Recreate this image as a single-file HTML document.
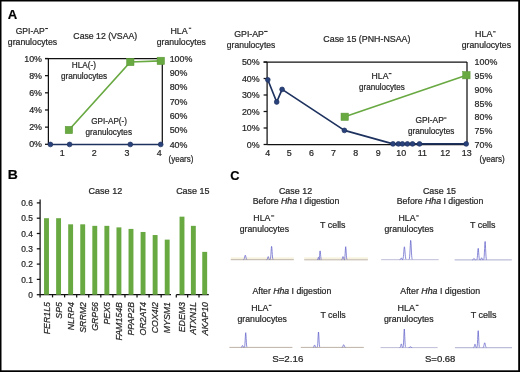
<!DOCTYPE html>
<html><head><meta charset="utf-8"><style>
html,body{margin:0;padding:0;background:#fff;}
body{width:520px;height:372px;overflow:hidden;}
svg{display:block;font-family:"Liberation Sans",sans-serif;will-change:transform;}
text{stroke:#262626;stroke-width:0.22px;}
</style></head><body>
<svg width="520" height="372" viewBox="0 0 520 372">
<rect width="520" height="372" fill="#fff"/>
<g fill="#262626" stroke-width="0">
<rect x="0.00" y="0.00" width="1.50" height="372.00" fill="#000"/>
<rect x="0.00" y="0.00" width="520.00" height="1.50" fill="#000"/>
<rect x="518.20" y="0.00" width="1.80" height="372.00" fill="#000"/>
<rect x="0.00" y="370.30" width="520.00" height="1.70" fill="#000"/>
<text x="7.77" y="18.9" font-size="13" textLength="9.47" lengthAdjust="spacingAndGlyphs" font-weight="bold" fill="#000">A</text>
<text x="7.67" y="179.1" font-size="13.2" textLength="10.07" lengthAdjust="spacingAndGlyphs" font-weight="bold" fill="#000">B</text>
<text x="230.27" y="179.5" font-size="13.2" textLength="9.28" lengthAdjust="spacingAndGlyphs" font-weight="bold" fill="#000">C</text>
<text x="15.67" y="33.9" font-size="8.7" textLength="28.98" lengthAdjust="spacingAndGlyphs">GPI-AP</text>
<rect x="45.2" y="28.01" width="2.70" height="1.05" fill="#262626"/>
<text x="7.83" y="44.8" font-size="8.7" textLength="49.38" lengthAdjust="spacingAndGlyphs">granulocytes</text>
<text x="73.36" y="39.1" font-size="8.7" textLength="63.78" lengthAdjust="spacingAndGlyphs">Case 12 (VSAA)</text>
<text x="170.47" y="33.6" font-size="8.7" textLength="17.24" lengthAdjust="spacingAndGlyphs">HLA</text>
<rect x="188.8" y="27.71" width="2.40" height="1.05" fill="#262626"/>
<text x="156.74" y="44.8" font-size="8.7" textLength="49.18" lengthAdjust="spacingAndGlyphs">granulocytes</text>
<line x1="45" y1="58.5" x2="162.3" y2="58.5" stroke="#111" stroke-width="1.25"/>
<line x1="48.4" y1="58.5" x2="48.4" y2="144.3" stroke="#111" stroke-width="1.25"/>
<line x1="162.3" y1="58.5" x2="162.3" y2="144.3" stroke="#111" stroke-width="1.25"/>
<line x1="45" y1="58.5" x2="48.4" y2="58.5" stroke="#111" stroke-width="1.25"/>
<text x="42" y="61.6" font-size="8.9" text-anchor="end">10%</text>
<line x1="45" y1="75.66" x2="48.4" y2="75.66" stroke="#111" stroke-width="1.25"/>
<text x="42" y="78.75999999999999" font-size="8.9" text-anchor="end">8%</text>
<line x1="45" y1="92.82000000000001" x2="48.4" y2="92.82000000000001" stroke="#111" stroke-width="1.25"/>
<text x="42" y="95.92" font-size="8.9" text-anchor="end">6%</text>
<line x1="45" y1="109.98" x2="48.4" y2="109.98" stroke="#111" stroke-width="1.25"/>
<text x="42" y="113.08" font-size="8.9" text-anchor="end">4%</text>
<line x1="45" y1="127.14000000000001" x2="48.4" y2="127.14000000000001" stroke="#111" stroke-width="1.25"/>
<text x="42" y="130.24" font-size="8.9" text-anchor="end">2%</text>
<line x1="45" y1="144.3" x2="48.4" y2="144.3" stroke="#111" stroke-width="1.25"/>
<text x="42" y="147.4" font-size="8.9" text-anchor="end">0%</text>
<text x="169.7" y="61.7" font-size="8.9" text-anchor="start">100%</text>
<text x="169.7" y="76.0" font-size="8.9" text-anchor="start">90%</text>
<text x="169.7" y="90.3" font-size="8.9" text-anchor="start">80%</text>
<text x="169.7" y="104.6" font-size="8.9" text-anchor="start">70%</text>
<text x="169.7" y="118.9" font-size="8.9" text-anchor="start">60%</text>
<text x="169.7" y="133.2" font-size="8.9" text-anchor="start">50%</text>
<text x="169.7" y="147.5" font-size="8.9" text-anchor="start">40%</text>
<text x="168.61" y="162.2" font-size="8.7" textLength="24.79" lengthAdjust="spacingAndGlyphs">(years)</text>
<text x="62.2" y="155.5" font-size="8.9" text-anchor="middle">1</text>
<text x="94.2" y="155.5" font-size="8.9" text-anchor="middle">2</text>
<text x="126.9" y="155.5" font-size="8.9" text-anchor="middle">3</text>
<text x="159.3" y="155.5" font-size="8.9" text-anchor="middle">4</text>
<polyline points="68.9,130 130.3,62 160.8,60.9" fill="none" stroke="#69a942" stroke-width="1.7" stroke-linejoin="round"/>
<rect x="65.20" y="126.30" width="7.4" height="7.4" fill="#69a942" stroke="#5b9637" stroke-width="0.5"/>
<rect x="126.60" y="58.30" width="7.4" height="7.4" fill="#69a942" stroke="#5b9637" stroke-width="0.5"/>
<rect x="157.10" y="57.20" width="7.4" height="7.4" fill="#69a942" stroke="#5b9637" stroke-width="0.5"/>
<line x1="48.4" y1="144.45" x2="162.3" y2="144.45" stroke="#1e325f" stroke-width="1.5"/>
<circle cx="50.4" cy="144.45" r="2.4" fill="#2a427c" stroke="#1e325f" stroke-width="0.7"/>
<circle cx="69.6" cy="144.45" r="2.4" fill="#2a427c" stroke="#1e325f" stroke-width="0.7"/>
<circle cx="130.3" cy="144.45" r="2.4" fill="#2a427c" stroke="#1e325f" stroke-width="0.7"/>
<circle cx="160.7" cy="144.45" r="2.4" fill="#2a427c" stroke="#1e325f" stroke-width="0.7"/>
<text x="71.82" y="68.3" font-size="8.4" textLength="24.29" lengthAdjust="spacingAndGlyphs">HLA(-)</text>
<text x="60.96" y="79.2" font-size="8.4" textLength="46.24" lengthAdjust="spacingAndGlyphs">granulocytes</text>
<text x="91.29" y="124.1" font-size="8.4" textLength="35.71" lengthAdjust="spacingAndGlyphs">GPI-AP(-)</text>
<text x="85.56" y="134.6" font-size="8.4" textLength="46.44" lengthAdjust="spacingAndGlyphs">granulocytes</text>
<text x="234.26" y="36.8" font-size="8.7" textLength="29.70" lengthAdjust="spacingAndGlyphs">GPI-AP</text>
<rect x="264.1" y="30.91" width="3.50" height="1.05" fill="#262626"/>
<text x="226.84" y="47.6" font-size="8.7" textLength="48.47" lengthAdjust="spacingAndGlyphs">granulocytes</text>
<text x="323.35" y="42.4" font-size="8.7" textLength="87.10" lengthAdjust="spacingAndGlyphs">Case 15 (PNH-NSAA)</text>
<text x="475.07" y="37.2" font-size="8.7" textLength="17.35" lengthAdjust="spacingAndGlyphs">HLA</text>
<rect x="493" y="31.31" width="2.70" height="1.05" fill="#262626"/>
<text x="461.74" y="48.2" font-size="8.7" textLength="49.28" lengthAdjust="spacingAndGlyphs">granulocytes</text>
<line x1="263.6" y1="62" x2="467" y2="62" stroke="#111" stroke-width="1.25"/>
<line x1="267.1" y1="62" x2="267.1" y2="144.5" stroke="#111" stroke-width="1.25"/>
<line x1="467" y1="62" x2="467" y2="144.5" stroke="#111" stroke-width="1.25"/>
<line x1="267.1" y1="144.5" x2="467" y2="144.5" stroke="#111" stroke-width="1.25"/>
<line x1="263.6" y1="62.0" x2="267.1" y2="62.0" stroke="#111" stroke-width="1.25"/>
<text x="259.7" y="65.1" font-size="8.9" text-anchor="end">50%</text>
<line x1="263.6" y1="78.5" x2="267.1" y2="78.5" stroke="#111" stroke-width="1.25"/>
<text x="259.7" y="81.6" font-size="8.9" text-anchor="end">40%</text>
<line x1="263.6" y1="95.0" x2="267.1" y2="95.0" stroke="#111" stroke-width="1.25"/>
<text x="259.7" y="98.1" font-size="8.9" text-anchor="end">30%</text>
<line x1="263.6" y1="111.5" x2="267.1" y2="111.5" stroke="#111" stroke-width="1.25"/>
<text x="259.7" y="114.6" font-size="8.9" text-anchor="end">20%</text>
<line x1="263.6" y1="128.0" x2="267.1" y2="128.0" stroke="#111" stroke-width="1.25"/>
<text x="259.7" y="131.1" font-size="8.9" text-anchor="end">10%</text>
<line x1="263.6" y1="144.5" x2="267.1" y2="144.5" stroke="#111" stroke-width="1.25"/>
<text x="259.7" y="147.6" font-size="8.9" text-anchor="end">0%</text>
<text x="474.6" y="65.3" font-size="8.9" text-anchor="start">100%</text>
<text x="474.6" y="79.05" font-size="8.9" text-anchor="start">95%</text>
<text x="474.6" y="92.8" font-size="8.9" text-anchor="start">90%</text>
<text x="474.6" y="106.55" font-size="8.9" text-anchor="start">85%</text>
<text x="474.6" y="120.3" font-size="8.9" text-anchor="start">80%</text>
<text x="474.6" y="134.05" font-size="8.9" text-anchor="start">75%</text>
<text x="474.6" y="147.8" font-size="8.9" text-anchor="start">70%</text>
<text x="479.50" y="161.9" font-size="8.7" textLength="25.20" lengthAdjust="spacingAndGlyphs">(years)</text>
<text x="267.7" y="156" font-size="8.9" text-anchor="middle">4</text>
<text x="289.2" y="156" font-size="8.9" text-anchor="middle">5</text>
<text x="311.5" y="156" font-size="8.9" text-anchor="middle">6</text>
<text x="333.5" y="156" font-size="8.9" text-anchor="middle">7</text>
<text x="355.6" y="156" font-size="8.9" text-anchor="middle">8</text>
<text x="378.3" y="156" font-size="8.9" text-anchor="middle">9</text>
<text x="401.2" y="156" font-size="8.9" text-anchor="middle">10</text>
<text x="422.4" y="156" font-size="8.9" text-anchor="middle">11</text>
<text x="445.2" y="156" font-size="8.9" text-anchor="middle">12</text>
<text x="466.7" y="156" font-size="8.9" text-anchor="middle">13</text>
<polyline points="267.8,79.8 276.7,102 282.1,89.4 344.4,130.4 393,143.9 398.4,143.9 402.4,143.9 407.4,143.9 412.5,143.9 419.5,143.9 466.2,143.9" fill="none" stroke="#1e325f" stroke-width="1.7" stroke-linejoin="round"/>
<circle cx="267.8" cy="79.8" r="2.4" fill="#2a427c" stroke="#1e325f" stroke-width="0.7"/>
<circle cx="276.7" cy="102" r="2.4" fill="#2a427c" stroke="#1e325f" stroke-width="0.7"/>
<circle cx="282.1" cy="89.4" r="2.4" fill="#2a427c" stroke="#1e325f" stroke-width="0.7"/>
<circle cx="344.4" cy="130.4" r="2.4" fill="#2a427c" stroke="#1e325f" stroke-width="0.7"/>
<circle cx="393" cy="143.9" r="2.4" fill="#2a427c" stroke="#1e325f" stroke-width="0.7"/>
<circle cx="398.4" cy="143.9" r="2.4" fill="#2a427c" stroke="#1e325f" stroke-width="0.7"/>
<circle cx="402.4" cy="143.9" r="2.4" fill="#2a427c" stroke="#1e325f" stroke-width="0.7"/>
<circle cx="407.4" cy="143.9" r="2.4" fill="#2a427c" stroke="#1e325f" stroke-width="0.7"/>
<circle cx="412.5" cy="143.9" r="2.4" fill="#2a427c" stroke="#1e325f" stroke-width="0.7"/>
<circle cx="419.5" cy="143.9" r="2.4" fill="#2a427c" stroke="#1e325f" stroke-width="0.7"/>
<circle cx="466.2" cy="143.9" r="2.4" fill="#2a427c" stroke="#1e325f" stroke-width="0.7"/>
<polyline points="344.7,116.8 466.4,75.2" fill="none" stroke="#69a942" stroke-width="1.7" stroke-linejoin="round"/>
<rect x="341.00" y="113.10" width="7.4" height="7.4" fill="#69a942" stroke="#5b9637" stroke-width="0.5"/>
<rect x="462.70" y="71.50" width="7.4" height="7.4" fill="#69a942" stroke="#5b9637" stroke-width="0.5"/>
<text x="371.59" y="79" font-size="8.7" textLength="16.83" lengthAdjust="spacingAndGlyphs">HLA</text>
<rect x="388.7" y="73.11" width="2.80" height="1.05" fill="#262626"/>
<text x="359.06" y="90" font-size="8.7" textLength="45.83" lengthAdjust="spacingAndGlyphs">granulocytes</text>
<text x="415.38" y="123.4" font-size="8.7" textLength="28.36" lengthAdjust="spacingAndGlyphs">GPI-AP</text>
<rect x="443.6" y="117.51" width="2.90" height="1.05" fill="#262626"/>
<text x="407.96" y="134.3" font-size="8.7" textLength="46.44" lengthAdjust="spacingAndGlyphs">granulocytes</text>
<text x="88.54" y="193.9" font-size="8.7" textLength="33.71" lengthAdjust="spacingAndGlyphs">Case 12</text>
<text x="176.15" y="193.9" font-size="8.7" textLength="33.33" lengthAdjust="spacingAndGlyphs">Case 15</text>
<line x1="40.1" y1="199.5" x2="40.1" y2="297.6" stroke="#111" stroke-width="1.25"/>
<line x1="40.1" y1="294.7" x2="171" y2="294.7" stroke="#111" stroke-width="1.25"/>
<line x1="176.3" y1="294.7" x2="208.8" y2="294.7" stroke="#111" stroke-width="1.25"/>
<line x1="36.8" y1="294.7" x2="40.1" y2="294.7" stroke="#111" stroke-width="1.25"/>
<text x="32.8" y="297.8" font-size="8.4" text-anchor="end">0</text>
<line x1="36.8" y1="279.4" x2="40.1" y2="279.4" stroke="#111" stroke-width="1.25"/>
<text x="32.8" y="282.5" font-size="8.4" text-anchor="end">0.1</text>
<line x1="36.8" y1="264.09999999999997" x2="40.1" y2="264.09999999999997" stroke="#111" stroke-width="1.25"/>
<text x="32.8" y="267.2" font-size="8.4" text-anchor="end">0.2</text>
<line x1="36.8" y1="248.79999999999998" x2="40.1" y2="248.79999999999998" stroke="#111" stroke-width="1.25"/>
<text x="32.8" y="251.89999999999998" font-size="8.4" text-anchor="end">0.3</text>
<line x1="36.8" y1="233.5" x2="40.1" y2="233.5" stroke="#111" stroke-width="1.25"/>
<text x="32.8" y="236.6" font-size="8.4" text-anchor="end">0.4</text>
<line x1="36.8" y1="218.2" x2="40.1" y2="218.2" stroke="#111" stroke-width="1.25"/>
<text x="32.8" y="221.29999999999998" font-size="8.4" text-anchor="end">0.5</text>
<line x1="36.8" y1="202.89999999999998" x2="40.1" y2="202.89999999999998" stroke="#111" stroke-width="1.25"/>
<text x="32.8" y="205.99999999999997" font-size="8.4" text-anchor="end">0.6</text>
<rect x="44.05" y="218.20" width="4.90" height="76.50" fill="#69a942"/>
<text transform="translate(49.60,302) rotate(-90)" font-size="8.8" font-style="italic" text-anchor="end">FER1L5</text>
<rect x="56.12" y="218.20" width="4.90" height="76.50" fill="#69a942"/>
<line x1="52.54" y1="294.7" x2="52.54" y2="297.4" stroke="#111" stroke-width="1.25"/>
<text transform="translate(61.67,302) rotate(-90)" font-size="8.8" font-style="italic" text-anchor="end">SP5</text>
<rect x="68.19" y="224.32" width="4.90" height="70.38" fill="#69a942"/>
<line x1="64.61" y1="294.7" x2="64.61" y2="297.4" stroke="#111" stroke-width="1.25"/>
<text transform="translate(73.74,302) rotate(-90)" font-size="8.8" font-style="italic" text-anchor="end">NLRP4</text>
<rect x="80.26" y="224.32" width="4.90" height="70.38" fill="#69a942"/>
<line x1="76.68" y1="294.7" x2="76.68" y2="297.4" stroke="#111" stroke-width="1.25"/>
<text transform="translate(85.81,302) rotate(-90)" font-size="8.8" font-style="italic" text-anchor="end">SRRM2</text>
<rect x="92.33" y="225.85" width="4.90" height="68.85" fill="#69a942"/>
<line x1="88.75" y1="294.7" x2="88.75" y2="297.4" stroke="#111" stroke-width="1.25"/>
<text transform="translate(97.88,302) rotate(-90)" font-size="8.8" font-style="italic" text-anchor="end">GRP56</text>
<rect x="104.40" y="225.85" width="4.90" height="68.85" fill="#69a942"/>
<line x1="100.82" y1="294.7" x2="100.82" y2="297.4" stroke="#111" stroke-width="1.25"/>
<text transform="translate(109.95,302) rotate(-90)" font-size="8.8" font-style="italic" text-anchor="end">PEX5</text>
<rect x="116.47" y="227.38" width="4.90" height="67.32" fill="#69a942"/>
<line x1="112.89" y1="294.7" x2="112.89" y2="297.4" stroke="#111" stroke-width="1.25"/>
<text transform="translate(122.02,302) rotate(-90)" font-size="8.8" font-style="italic" text-anchor="end">FAM154B</text>
<rect x="128.54" y="228.91" width="4.90" height="65.79" fill="#69a942"/>
<line x1="124.96000000000001" y1="294.7" x2="124.96000000000001" y2="297.4" stroke="#111" stroke-width="1.25"/>
<text transform="translate(134.09,302) rotate(-90)" font-size="8.8" font-style="italic" text-anchor="end">PPAP2B</text>
<rect x="140.61" y="231.97" width="4.90" height="62.73" fill="#69a942"/>
<line x1="137.03" y1="294.7" x2="137.03" y2="297.4" stroke="#111" stroke-width="1.25"/>
<text transform="translate(146.16,302) rotate(-90)" font-size="8.8" font-style="italic" text-anchor="end">OR2AT4</text>
<rect x="152.68" y="235.03" width="4.90" height="59.67" fill="#69a942"/>
<line x1="149.1" y1="294.7" x2="149.1" y2="297.4" stroke="#111" stroke-width="1.25"/>
<text transform="translate(158.23,302) rotate(-90)" font-size="8.8" font-style="italic" text-anchor="end">COX4I2</text>
<rect x="164.75" y="239.62" width="4.90" height="55.08" fill="#69a942"/>
<line x1="161.17" y1="294.7" x2="161.17" y2="297.4" stroke="#111" stroke-width="1.25"/>
<text transform="translate(170.30,302) rotate(-90)" font-size="8.8" font-style="italic" text-anchor="end">MYSM1</text>
<rect x="179.55" y="216.67" width="4.90" height="78.03" fill="#69a942"/>
<line x1="176.3" y1="294.7" x2="176.3" y2="297.4" stroke="#111" stroke-width="1.25"/>
<text transform="translate(185.10,302) rotate(-90)" font-size="8.8" font-style="italic" text-anchor="end">EDEM3</text>
<rect x="190.90" y="225.85" width="4.90" height="68.85" fill="#69a942"/>
<line x1="187.65" y1="294.7" x2="187.65" y2="297.4" stroke="#111" stroke-width="1.25"/>
<text transform="translate(196.45,302) rotate(-90)" font-size="8.8" font-style="italic" text-anchor="end">ATXN1L</text>
<rect x="202.25" y="251.86" width="4.90" height="42.84" fill="#69a942"/>
<line x1="199.0" y1="294.7" x2="199.0" y2="297.4" stroke="#111" stroke-width="1.25"/>
<text transform="translate(207.80,302) rotate(-90)" font-size="8.8" font-style="italic" text-anchor="end">AKAP10</text>
<text x="278.95" y="193.7" font-size="8.7" textLength="33.20" lengthAdjust="spacingAndGlyphs">Case 12</text>
<text x="252.78" y="203.7" font-size="8.7" textLength="86.59" lengthAdjust="spacingAndGlyphs">Before <tspan font-style="italic">Hha</tspan> I digestion</text>
<text x="422.95" y="193.7" font-size="8.7" textLength="33.13" lengthAdjust="spacingAndGlyphs">Case 15</text>
<text x="396.78" y="203.6" font-size="8.7" textLength="86.59" lengthAdjust="spacingAndGlyphs">Before <tspan font-style="italic">Hha</tspan> I digestion</text>
<text x="253.38" y="221.3" font-size="8.7" textLength="17.04" lengthAdjust="spacingAndGlyphs">HLA</text>
<rect x="271" y="215.41" width="3.20" height="1.05" fill="#262626"/>
<text x="239.74" y="232" font-size="8.7" textLength="49.28" lengthAdjust="spacingAndGlyphs">granulocytes</text>
<text x="320.10" y="228.3" font-size="8.7" textLength="25.42" lengthAdjust="spacingAndGlyphs">T cells</text>
<text x="398.48" y="221.3" font-size="8.7" textLength="17.04" lengthAdjust="spacingAndGlyphs">HLA</text>
<rect x="416.1" y="215.41" width="2.70" height="1.05" fill="#262626"/>
<text x="384.44" y="232" font-size="8.7" textLength="49.18" lengthAdjust="spacingAndGlyphs">granulocytes</text>
<text x="470.00" y="228.3" font-size="8.7" textLength="25.52" lengthAdjust="spacingAndGlyphs">T cells</text>
<text x="252.48" y="293.8" font-size="8.7" textLength="78.78" lengthAdjust="spacingAndGlyphs">After <tspan font-style="italic">Hha</tspan> I digestion</text>
<text x="400.28" y="293.8" font-size="8.7" textLength="79.89" lengthAdjust="spacingAndGlyphs">After <tspan font-style="italic">Hha</tspan> I digestion</text>
<text x="251.18" y="310.7" font-size="8.7" textLength="17.14" lengthAdjust="spacingAndGlyphs">HLA</text>
<rect x="268.8" y="304.81" width="2.70" height="1.05" fill="#262626"/>
<text x="237.53" y="321.8" font-size="8.7" textLength="49.38" lengthAdjust="spacingAndGlyphs">granulocytes</text>
<text x="320.40" y="317.7" font-size="8.7" textLength="25.42" lengthAdjust="spacingAndGlyphs">T cells</text>
<text x="397.56" y="310.7" font-size="8.7" textLength="17.45" lengthAdjust="spacingAndGlyphs">HLA</text>
<rect x="415.8" y="304.81" width="2.70" height="1.05" fill="#262626"/>
<text x="383.93" y="321.8" font-size="8.7" textLength="49.68" lengthAdjust="spacingAndGlyphs">granulocytes</text>
<text x="470.80" y="317.5" font-size="8.7" textLength="25.82" lengthAdjust="spacingAndGlyphs">T cells</text>
<text x="272.16" y="361.6" font-size="8.7" textLength="31.17" lengthAdjust="spacingAndGlyphs">S=2.16</text>
<text x="424.97" y="362.0" font-size="8.7" textLength="30.45" lengthAdjust="spacingAndGlyphs">S=0.68</text>
<line x1="230.8" y1="258.09999999999997" x2="293.8" y2="258.09999999999997" stroke="#f5eed2" stroke-width="1.2"/>
<line x1="230.8" y1="259.7" x2="293.8" y2="259.7" stroke="#bdb2a6" stroke-width="1.0"/>
<polyline points="243.5,259.65 243.7,259.57 243.9,259.4 244.1,259.09 244.3,258.58 244.5,257.85 244.7,256.97 244.9,256.1 245.1,255.44 245.3,255.2 245.5,255.44 245.7,256.1 245.9,256.97 246.1,257.85 246.3,258.58 246.5,259.09 246.7,259.4 246.9,259.57" fill="none" stroke="#5c5cc8" stroke-width="0.85" stroke-linejoin="round" stroke-opacity="0.85"/>
<polyline points="266.7,259.67 266.9,259.59 267.1,259.42 267.3,259.09 267.5,258.54 267.7,257.82 267.9,257.11 268.1,256.66 268.3,256.66 268.5,257.11 268.7,257.82 268.9,258.54 269.1,259.09 269.3,259.42 269.5,259.59 269.7,259.67" fill="none" stroke="#5c5cc8" stroke-width="0.85" stroke-linejoin="round" stroke-opacity="0.85"/>
<polyline points="270.1,259.55 270.3,259.24 270.5,258.5 270.7,257.03 270.9,254.63 271.1,251.51 271.3,248.42 271.5,246.47 271.7,246.47 271.9,248.42 272.1,251.51 272.3,254.63 272.5,257.03 272.7,258.5 272.9,259.24 273.1,259.55" fill="none" stroke="#5c5cc8" stroke-width="0.85" stroke-linejoin="round" stroke-opacity="0.85"/>
<line x1="304.2" y1="258.2" x2="367.9" y2="258.2" stroke="#f5eed2" stroke-width="1.2"/>
<line x1="304.2" y1="259.8" x2="367.9" y2="259.8" stroke="#bdb2a6" stroke-width="1.0"/>
<polyline points="317.1,259.77 317.3,259.71 317.5,259.57 317.7,259.29 317.9,258.82 318.1,258.22 318.3,257.63 318.5,257.25 318.7,257.25 318.9,257.63 319.1,258.22 319.3,258.82 319.5,259.29 319.7,259.57 319.9,259.71 320.1,259.77" fill="none" stroke="#5c5cc8" stroke-width="0.85" stroke-linejoin="round" stroke-opacity="0.85"/>
<polyline points="318.75,259.7 318.95,259.46 319.15,258.83 319.35,257.56 319.55,255.54 319.75,253.15 319.95,251.29 320.15,250.86 320.35,252.09 320.55,254.34 320.75,256.63 320.95,258.29 321.15,259.21 321.35,259.61" fill="none" stroke="#5c5cc8" stroke-width="0.85" stroke-linejoin="round" stroke-opacity="0.85"/>
<polyline points="341.5,259.76 341.7,259.69 341.9,259.52 342.1,259.17 342.3,258.6 342.5,257.86 342.7,257.13 342.9,256.66 343.1,256.66 343.3,257.13 343.5,257.86 343.7,258.6 343.9,259.17 344.1,259.52 344.3,259.69 344.5,259.76" fill="none" stroke="#5c5cc8" stroke-width="0.85" stroke-linejoin="round" stroke-opacity="0.85"/>
<polyline points="344.35,259.65 344.55,259.3 344.75,258.38 344.95,256.51 345.15,253.55 345.35,250.05 345.55,247.31 345.75,246.68 345.95,248.49 346.15,251.79 346.35,255.15 346.55,257.58 346.75,258.93 346.95,259.52" fill="none" stroke="#5c5cc8" stroke-width="0.85" stroke-linejoin="round" stroke-opacity="0.85"/>
<line x1="381.2" y1="259.7" x2="438.7" y2="259.7" stroke="#bdbdd9" stroke-width="1.0"/>
<polyline points="399.8,259.68 400.0,259.64 400.2,259.54 400.4,259.34 400.6,259.02 400.8,258.61 401.0,258.2 401.2,257.94 401.4,257.94 401.6,258.2 401.8,258.61 402.0,259.02 402.2,259.34 402.4,259.54 402.6,259.64 402.8,259.68" fill="none" stroke="#5c5cc8" stroke-width="0.85" stroke-linejoin="round" stroke-opacity="0.85"/>
<polyline points="402.6,259.56 402.8,259.33 403.0,258.85 403.2,257.95 403.4,256.48 403.6,254.4 403.8,251.88 404.0,249.37 404.2,247.5 404.4,246.8 404.6,247.5 404.8,249.37 405.0,251.88 405.2,254.4 405.4,256.48 405.6,257.95 405.8,258.85 406.0,259.33" fill="none" stroke="#5c5cc8" stroke-width="0.85" stroke-linejoin="round" stroke-opacity="0.85"/>
<polyline points="409.05,259.48 409.25,259.1 409.45,258.23 409.65,256.56 409.85,253.82 410.05,250.05 410.25,245.82 410.45,242.2 410.65,240.38 410.85,241.01 411.05,243.86 411.25,247.93 411.45,252.04 411.65,255.34 411.85,257.52 412.05,258.75 412.25,259.33" fill="none" stroke="#5c5cc8" stroke-width="0.85" stroke-linejoin="round" stroke-opacity="0.85"/>
<line x1="454.6" y1="259.9" x2="511.8" y2="259.9" stroke="#bdbdd9" stroke-width="1.2"/>
<polyline points="472.5,259.88 472.7,259.85 472.9,259.78 473.1,259.62 473.3,259.37 473.5,259.05 473.7,258.73 473.9,258.53 474.1,258.53 474.3,258.73 474.5,259.05 474.7,259.37 474.9,259.62 475.1,259.78 475.3,259.85 475.5,259.88" fill="none" stroke="#5c5cc8" stroke-width="0.85" stroke-linejoin="round" stroke-opacity="0.85"/>
<polyline points="476.7,259.77 476.9,259.5 477.1,258.86 477.3,257.58 477.5,255.51 477.7,252.8 477.9,250.13 478.1,248.43 478.3,248.43 478.5,250.13 478.7,252.8 478.9,255.51 479.1,257.58 479.3,258.86 479.5,259.5 479.7,259.77" fill="none" stroke="#5c5cc8" stroke-width="0.85" stroke-linejoin="round" stroke-opacity="0.85"/>
<polyline points="480.1,259.88 480.3,259.83 480.5,259.71 480.7,259.48 480.9,259.11 481.1,258.63 481.3,258.15 481.5,257.84 481.7,257.84 481.9,258.15 482.1,258.63 482.3,259.11 482.5,259.48 482.7,259.71 482.9,259.83 483.1,259.88" fill="none" stroke="#5c5cc8" stroke-width="0.85" stroke-linejoin="round" stroke-opacity="0.85"/>
<polyline points="483.6,259.69 483.8,259.26 484.0,258.24 484.2,256.2 484.4,252.88 484.6,248.56 484.8,244.28 485.0,241.57 485.2,241.57 485.4,244.28 485.6,248.56 485.8,252.88 486.0,256.2 486.2,258.24 486.4,259.26 486.6,259.69" fill="none" stroke="#5c5cc8" stroke-width="0.85" stroke-linejoin="round" stroke-opacity="0.85"/>
<line x1="229.4" y1="347.4" x2="292.4" y2="347.4" stroke="#bdb2a6" stroke-width="1.0"/>
<polyline points="241.0,347.38 241.2,347.34 241.4,347.23 241.6,347.02 241.8,346.69 242.0,346.25 242.2,345.81 242.4,345.54 242.6,345.54 242.8,345.81 243.0,346.25 243.2,346.69 243.4,347.02 243.6,347.23 243.8,347.34 244.0,347.38" fill="none" stroke="#5c5cc8" stroke-width="0.85" stroke-linejoin="round" stroke-opacity="0.85"/>
<polyline points="244.35,347.24 244.55,346.83 244.75,345.81 244.95,343.71 245.15,340.39 245.35,336.46 245.55,333.4 245.75,332.69 245.95,334.72 246.15,338.42 246.35,342.19 246.55,344.91 246.75,346.43 246.95,347.09" fill="none" stroke="#5c5cc8" stroke-width="0.85" stroke-linejoin="round" stroke-opacity="0.85"/>
<line x1="300.8" y1="347.4" x2="363.8" y2="347.4" stroke="#bdb2a6" stroke-width="1.0"/>
<polyline points="313.1,347.37 313.3,347.32 313.5,347.19 313.7,346.93 313.9,346.5 314.1,345.94 314.3,345.4 314.5,345.05 314.7,345.05 314.9,345.4 315.1,345.94 315.3,346.5 315.5,346.93 315.7,347.19 315.9,347.32 316.1,347.37" fill="none" stroke="#5c5cc8" stroke-width="0.85" stroke-linejoin="round" stroke-opacity="0.85"/>
<polyline points="317.15,347.23 317.35,346.81 317.55,345.73 317.75,343.54 317.95,340.06 318.15,335.95 318.35,332.74 318.55,332.0 318.75,334.12 318.95,338.0 319.15,341.94 319.35,344.8 319.55,346.38 319.75,347.07" fill="none" stroke="#5c5cc8" stroke-width="0.85" stroke-linejoin="round" stroke-opacity="0.85"/>
<polyline points="341.9,347.37 342.1,347.32 342.3,347.22 342.5,347.03 342.7,346.73 342.9,346.29 343.1,345.76 343.3,345.24 343.5,344.85 343.7,344.7 343.9,344.85 344.1,345.24 344.3,345.76 344.5,346.29 344.7,346.73 344.9,347.03 345.1,347.22 345.3,347.32" fill="none" stroke="#5c5cc8" stroke-width="0.85" stroke-linejoin="round" stroke-opacity="0.85"/>
<line x1="380.5" y1="347.6" x2="437.6" y2="347.6" stroke="#bdbdd9" stroke-width="1.0"/>
<polyline points="399.8,347.56 400.0,347.47 400.2,347.27 400.4,346.87 400.6,346.21 400.8,345.36 401.0,344.51 401.2,343.97 401.4,343.97 401.6,344.51 401.8,345.36 402.0,346.21 402.2,346.87 402.4,347.27 402.6,347.47 402.8,347.56" fill="none" stroke="#5c5cc8" stroke-width="0.85" stroke-linejoin="round" stroke-opacity="0.85"/>
<polyline points="402.95,347.39 403.15,346.89 403.35,345.59 403.55,342.94 403.75,338.74 403.95,333.78 404.15,329.91 404.35,329.02 404.55,331.57 404.75,336.26 404.95,341.01 405.15,344.46 405.35,346.37 405.55,347.21" fill="none" stroke="#5c5cc8" stroke-width="0.85" stroke-linejoin="round" stroke-opacity="0.85"/>
<polyline points="408.7,347.59 408.9,347.58 409.1,347.55 409.3,347.49 409.5,347.4 409.7,347.27 409.9,347.11 410.1,346.96 410.3,346.84 410.5,346.8 410.7,346.84 410.9,346.96 411.1,347.11 411.3,347.27 411.5,347.4 411.7,347.49 411.9,347.55 412.1,347.58" fill="none" stroke="#5c5cc8" stroke-width="0.85" stroke-linejoin="round" stroke-opacity="0.85"/>
<line x1="454.9" y1="347.6" x2="512" y2="347.6" stroke="#bdbdd9" stroke-width="1.2"/>
<polyline points="473.5,347.56 473.7,347.48 473.9,347.3 474.1,346.93 474.3,346.32 474.5,345.54 474.7,344.76 474.9,344.27 475.1,344.27 475.3,344.76 475.5,345.54 475.7,346.32 475.9,346.93 476.1,347.3 476.3,347.48 476.5,347.56" fill="none" stroke="#5c5cc8" stroke-width="0.85" stroke-linejoin="round" stroke-opacity="0.85"/>
<polyline points="476.85,347.41 477.05,346.95 477.25,345.77 477.45,343.36 477.65,339.54 477.85,335.04 478.05,331.52 478.25,330.7 478.45,333.03 478.65,337.29 478.85,341.61 479.05,344.74 479.25,346.48 479.45,347.24" fill="none" stroke="#5c5cc8" stroke-width="0.85" stroke-linejoin="round" stroke-opacity="0.85"/>
<polyline points="482.9,347.55 483.1,347.46 483.3,347.28 483.5,346.95 483.7,346.4 483.9,345.63 484.1,344.69 484.3,343.76 484.5,343.06 484.7,342.8 484.9,343.06 485.1,343.76 485.3,344.69 485.5,345.63 485.7,346.4 485.9,346.95 486.1,347.28 486.3,347.46" fill="none" stroke="#5c5cc8" stroke-width="0.85" stroke-linejoin="round" stroke-opacity="0.85"/>
</g>
</svg>
</body></html>
